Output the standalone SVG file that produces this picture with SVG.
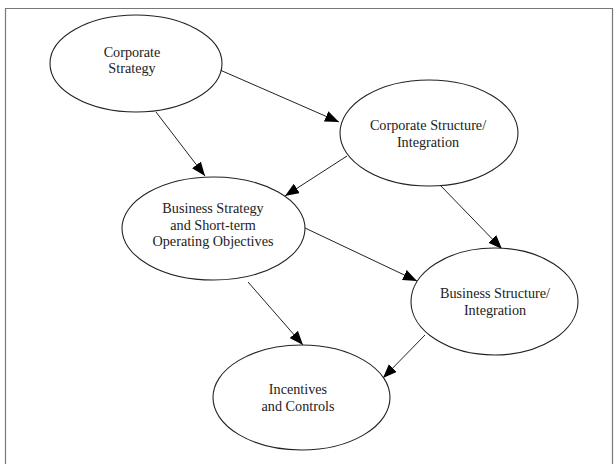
<svg xmlns="http://www.w3.org/2000/svg" width="614" height="464" viewBox="0 0 614 464">
<style>
.node ellipse{fill:#fff;stroke:#222;stroke-width:1.1}
.node text{font-family:"Liberation Serif","Times New Roman",serif;font-size:14.2px;fill:#222;text-anchor:middle}
.edges line{stroke:#222;stroke-width:1;marker-end:url(#arrow)}
</style>
<defs>
<marker id="arrow" markerUnits="userSpaceOnUse" markerWidth="15" markerHeight="12" refX="14" refY="5.5" orient="auto">
<path d="M0,0 L14,5.5 L0,11 z" fill="#000"/>
</marker>
</defs>
<rect width="614" height="464" fill="#fff"/>
<path d="M5.5,464 V8.5 H612.5 V464" fill="none" stroke="#777" stroke-width="1.2"/>
<g class="edges">
<line x1="220" y1="70" x2="339" y2="122"/>
<line x1="156" y1="112" x2="205" y2="176"/>
<line x1="347" y1="156" x2="285" y2="196"/>
<line x1="440" y1="185" x2="502" y2="249"/>
<line x1="305" y1="228" x2="417" y2="281"/>
<line x1="248" y1="282" x2="303" y2="345"/>
<line x1="425" y1="335" x2="383" y2="378"/>
</g>
<g class="node" id="corporate-strategy">
<ellipse cx="136" cy="63.5" rx="86" ry="48.5"/>
<text x="132" y="57">Corporate</text>
<text x="132" y="73">Strategy</text>
</g>
<g class="node" id="corporate-structure">
<ellipse cx="429" cy="133" rx="89" ry="53"/>
<text x="428" y="130">Corporate Structure/</text>
<text x="428" y="146.5">Integration</text>
</g>
<g class="node" id="business-strategy">
<ellipse cx="213.5" cy="228.5" rx="91.5" ry="51.5"/>
<text x="213" y="213">Business Strategy</text>
<text x="213" y="229.5">and Short-term</text>
<text x="213" y="246">Operating Objectives</text>
</g>
<g class="node" id="business-structure">
<ellipse cx="494.5" cy="301.5" rx="83.5" ry="53.5"/>
<text x="495" y="298">Business Structure/</text>
<text x="495" y="315">Integration</text>
</g>
<g class="node" id="incentives">
<ellipse cx="301.5" cy="397.5" rx="88.5" ry="52.5"/>
<text x="298" y="394">Incentives</text>
<text x="298" y="411">and Controls</text>
</g>
</svg>
